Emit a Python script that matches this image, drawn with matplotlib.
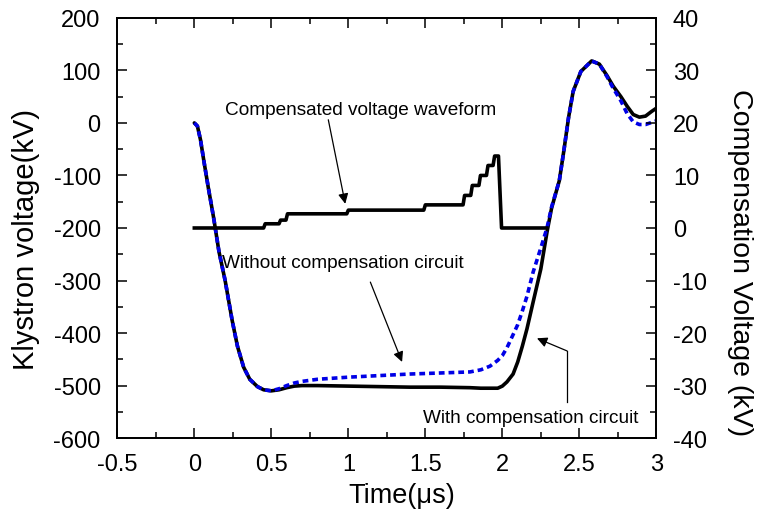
# klystron_comp.py
# Klystron voltage with / without the compensation circuit,
# plus the stepped compensation waveform on a second axis.

import matplotlib
matplotlib.use("Agg")
import matplotlib.pyplot as plt
from matplotlib.ticker import MultipleLocator

plt.rcParams["font.family"] = ["Liberation Sans", "DejaVu Sans"]
plt.rcParams["axes.unicode_minus"] = False

# ---------------------------------------------------------
# DATA
# ---------------------------------------------------------
# time in microseconds, voltages in kV
time_us = [0.00, 0.02, 0.04, 0.06, 0.09, 0.125, 0.16, 0.20, 0.245, 0.28,
           0.32, 0.36, 0.41, 0.45, 0.50, 0.55, 0.60, 0.65, 0.70, 0.80,
           1.00, 1.20, 1.40, 1.60, 1.79, 1.86, 1.92, 1.97, 2.00, 2.03,
           2.07, 2.10, 2.13, 2.16, 2.20, 2.25, 2.29, 2.32, 2.37, 2.40,
           2.43, 2.46, 2.51, 2.58, 2.63, 2.68, 2.72, 2.77, 2.81, 2.85,
           2.89, 2.93, 2.97, 3.00]

# klystron voltage, compensation circuit on
kly_with = [0, -6, -32, -69, -122, -180, -245, -300, -375, -425,
            -465, -488, -502, -508, -510, -508, -504, -501, -500, -500,
            -501, -502, -503, -503, -504, -505, -505, -505, -501, -493,
            -478, -455, -425, -392, -341, -278, -208, -162, -110, -52,
            10, 60, 98, 118, 112, 90, 70, 50, 32, 16,
            11, 13, 22, 28]

# klystron voltage, compensation circuit off
kly_without = [0, -6, -32, -69, -122, -180, -245, -300, -375, -425,
               -465, -488, -502, -508, -510, -506, -500, -495, -492, -488,
               -484, -481, -478, -476, -474, -470, -463, -452, -443, -428,
               -403, -384, -358, -330, -284, -238, -200, -160, -110, -52,
               10, 60, 98, 118, 112, 88, 66, 42, 18, 2,
               -3, -3, 1, 4]

# stepped compensation voltage (right axis)
comp_time_us = [0.00, 0.45, 0.46, 0.55, 0.56, 0.595, 0.605, 0.99, 1.00, 1.49,
                1.50, 1.745, 1.755, 1.795, 1.805, 1.848, 1.858, 1.897, 1.907, 1.94,
                1.95, 1.975, 1.995, 2.29]
comp_kv = [0, 0, 0.8, 0.8, 1.5, 1.5, 2.7, 2.7, 3.4, 3.4,
           4.4, 4.4, 6.2, 6.2, 8.1, 8.1, 10.0, 10.0, 11.9, 11.9,
           13.7, 13.7, 0, 0]

x_ticks = [-0.5, 0, 0.5, 1, 1.5, 2, 2.5, 3]
x_tick_labels = ["-0.5", "0", "0.5", "1", "1.5", "2", "2.5", "3"]
left_ticks = list(range(-600, 201, 100))
right_ticks = list(range(-40, 41, 10))

# ---------------------------------------------------------
# PLOT
# ---------------------------------------------------------
fig = plt.figure(figsize=(7.57, 5.10), dpi=100)
ax = fig.add_axes([0.155, 0.139, 0.712, 0.824])

ax.plot(time_us, kly_with, color="black", linewidth=2.6, solid_capstyle="round")
ax.plot(time_us, kly_without, color="#0000e6", linewidth=2.6,
        linestyle=(0, (1.6, 1.1)))

ax.set_xlim(-0.5, 3)
ax.set_ylim(-600, 200)
ax.set_xticks(x_ticks)
ax.set_xticklabels(x_tick_labels)
ax.set_yticks(left_ticks)
ax.xaxis.set_minor_locator(MultipleLocator(0.25))
ax.yaxis.set_minor_locator(MultipleLocator(50))
ax.tick_params(which="both", direction="in", top=True, right=False,
               labelsize=17, width=1.1)
ax.tick_params(axis="y", pad=12)
ax.tick_params(axis="x", pad=11)
ax.tick_params(which="major", length=7)
ax.tick_params(which="minor", length=4)

ax.set_xlabel("Time(μs)", fontsize=19.5, va="center")
ax.xaxis.set_label_coords(0.527, -0.136)
ax.set_ylabel("Klystron voltage(kV)", fontsize=21, va="center")
ax.yaxis.set_label_coords(-0.17, 0.474)

# second axis for the compensation waveform
ax2 = ax.twinx()
ax2.plot(comp_time_us, comp_kv, color="black", linewidth=2.6)
ax2.set_ylim(-40, 40)
ax2.set_yticks(right_ticks)
ax2.yaxis.set_minor_locator(MultipleLocator(5))
ax2.tick_params(which="both", direction="in", labelsize=17, width=1.1, pad=12)
ax2.tick_params(which="major", length=7)
ax2.tick_params(which="minor", length=4)
ax2.set_ylabel("Compensation Voltage (kV)", fontsize=20.5, rotation=270,
               va="center", ha="center")
ax2.yaxis.set_label_coords(1.155, 0.42)

for a in (ax, ax2):
    for s in a.spines.values():
        s.set_linewidth(1.3)

# annotations
arrow = dict(arrowstyle="-|>", color="black", lw=0.9, mutation_scale=15,
             shrinkA=0, shrinkB=0)

ax.text(0.2, 17, "Compensated voltage waveform", fontsize=13.7, va="baseline")
ax.annotate("", xy=(0.98, -154), xytext=(0.87, 6), arrowprops=arrow)

ax.text(0.18, -274, "Without compensation circuit", fontsize=13.7, va="baseline")
ax.annotate("", xy=(1.349, -455), xytext=(1.143, -303), arrowprops=arrow)

ax.text(1.487, -570, "With compensation circuit", fontsize=13.7, va="baseline")
ax.plot([2.42, 2.42], [-532, -434], color="black", lw=0.9)
ax.annotate("", xy=(2.225, -410), xytext=(2.42, -434), arrowprops=arrow)

plt.savefig("out.png", dpi=100)
